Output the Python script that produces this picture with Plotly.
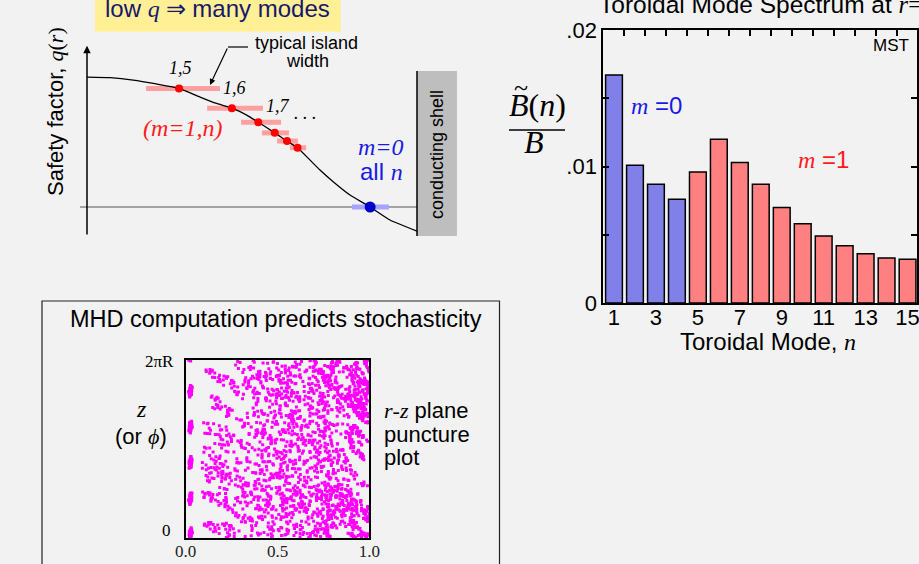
import numpy as np
import plotly.graph_objects as go

W, H = 919, 564
BG = "#f2f2f2"
SANS = "Liberation Sans"
SERIF = "Liberation Serif"

# ---------------- toroidal mode spectrum at r = a (MST) ----------------
MODE_N = list(range(1, 16))
MODE_AMP = [0.0167, 0.0101, 0.0087, 0.0076, 0.0096, 0.0120, 0.0103, 0.0087,
            0.0070, 0.0058, 0.0049, 0.0042, 0.0036, 0.0033, 0.0032]
MODE_M = [0, 0, 0, 0, 1, 1, 1, 1, 1, 1, 1, 1, 1, 1, 1]
X_TICKS = [1, 3, 5, 7, 9, 11, 13, 15]
X_TOP_TICKS = [1.5, 2.5, 3.5, 4.5, 5.5, 6.5, 7.5, 8.5, 9.5, 10.5, 11.5, 12.5, 13.5, 14.5]
Y_TICKS = [0, 0.005, 0.01, 0.015, 0.02]
Y_TICK_TEXT = ["0", "", ".01", "", ".02"]

# ---------------- safety-factor profile q(r), r in units of the shell radius ----------------
PROFILE_R = [0.0, 0.07, 0.14, 0.21, 0.279, 0.34, 0.39, 0.439, 0.484, 0.519,
             0.569, 0.606, 0.638, 0.676, 0.706, 0.746, 0.797, 0.858, 0.918, 1.0]
PROFILE_Q = [0.219, 0.218, 0.214, 0.2075, 0.200, 0.186, 0.175, 0.1667, 0.155, 0.1429,
             0.125, 0.111, 0.100, 0.079, 0.0624, 0.0427, 0.0202, 0.0, -0.0219, -0.0405]

# m=1 resonant surfaces (q = 1/n) and their island widths
RES_N = [5, 6, 7, 8, 9, 10]
RES_R = [0.279, 0.439, 0.519, 0.569, 0.606, 0.638]
ISLAND_LO = [0.179, 0.364, 0.467, 0.530, 0.576, 0.615]
ISLAND_HI = [0.403, 0.533, 0.588, 0.612, 0.639, 0.664]
RES_LABELS = ["1,5", "1,6", "1,7"]
# m=0 resonance at the q = 0 surface
M0_R = 0.858
M0_LO, M0_HI = 0.803, 0.915

# ---------------- field-line puncture map (r-z plane) ----------------
MODE_PHASE = [0.12, 0.57, 0.33, 0.81, 0.05, 0.46, 0.29, 0.68, 0.91, 0.14,
              0.52, 0.37, 0.76, 0.23, 0.64]
KICK_GAIN = 4.0
SHEAR_GAIN = 4.0
R_INNER, R_OUTER = 0.09, 1.0
SEED_R = [0.12, 0.18, 0.24, 0.30, 0.36, 0.42, 0.48, 0.54, 0.60, 0.66, 0.72, 0.78,
          0.84, 0.90, 0.96, 0.15, 0.27, 0.45, 0.63, 0.81, 0.99, 0.21, 0.39, 0.57]
SEED_Z = [0.05, 0.61, 0.33, 0.87, 0.12, 0.48, 0.72, 0.26, 0.94, 0.41, 0.07, 0.66,
          0.19, 0.53, 0.81, 0.36, 0.98, 0.14, 0.59, 0.31, 0.77, 0.45, 0.02, 0.69]
TURNS = 85

# near-axis island chain (n = 5)
CORE_N = 5
CORE_R0, CORE_Z0, CORE_K = 0.026, 0.025, 0.02
CORE_THETA = [1.0, 0.6, 0.8]
CORE_TURNS = 40


def q_of(r):
    return float(np.interp(r, PROFILE_R, PROFILE_Q))


def trace_chaotic(r, z, turns):
    rs, zs = [], []
    for _ in range(turns):
        kick = sum(a * np.sin(2 * np.pi * (n * z + ph))
                   for n, a, ph in zip(MODE_N, MODE_AMP, MODE_PHASE))
        r += KICK_GAIN * (1.2 - 0.35 * r) * kick
        while r < R_INNER or r > R_OUTER:
            if r < R_INNER:
                r = 2 * R_INNER - r
            if r > R_OUTER:
                r = 2 * R_OUTER - r
        z = (z + SHEAR_GAIN * q_of(r)) % 1.0
        rs.append(r)
        zs.append(z)
    return rs, zs


def trace_core(theta, turns):
    p = 0.0
    rs, zs = [], []
    for k in range(turns):
        p -= CORE_K * np.sin(theta)
        theta += 2 * np.pi * CORE_N * p
        rs.append(CORE_R0 + 0.35 * p)
        zs.append((CORE_Z0 + k / CORE_N + theta / (2 * np.pi * CORE_N)) % 1.0)
    return rs, zs


punct_r, punct_z = [], []
for r0, z0 in zip(SEED_R, SEED_Z):
    a, b = trace_chaotic(r0, z0, TURNS)
    punct_r += a
    punct_z += b
core_r, core_z = [], []
for th in CORE_THETA:
    a, b = trace_core(th, CORE_TURNS)
    core_r += a
    core_z += b


def px(x):
    return x / W


def py(y):
    return 1 - y / H


def serif(t):
    return f"<span style='font-family:{SERIF}'>{t}</span>"


def ann(text, x, y, size, color="black", family=SANS, xanchor="center", angle=0):
    return dict(text=text, x=px(x), y=py(y), xref="paper", yref="paper", showarrow=False,
                font=dict(size=size, color=color, family=family),
                xanchor=xanchor, yanchor="middle", textangle=angle)


BLUE = "#8080e8"
RED = "#ff8080"

fig = go.Figure()

# spectrum bars
fig.add_trace(go.Bar(
    x=MODE_N, y=MODE_AMP, width=0.8,
    marker=dict(color=[BLUE if m == 0 else RED for m in MODE_M],
                line=dict(color="black", width=1.5)),
    xaxis="x", yaxis="y", hoverinfo="skip"))
# carrier for the top tick axis
fig.add_trace(go.Scatter(x=[MODE_N[0]], y=[0], mode="markers", marker=dict(opacity=0),
                         xaxis="x2", yaxis="y", hoverinfo="skip"))

# island widths
isl_x, isl_y = [], []
for n, lo, hi in zip(RES_N, ISLAND_LO, ISLAND_HI):
    isl_x += [lo, hi, None]
    isl_y += [1 / n, 1 / n, None]
fig.add_trace(go.Scatter(x=isl_x, y=isl_y, mode="lines",
                         line=dict(color="#ffa0a0", width=5), xaxis="x3", yaxis="y3"))
fig.add_trace(go.Scatter(x=[M0_LO, M0_HI], y=[0, 0], mode="lines",
                         line=dict(color="#a4a4ff", width=5), xaxis="x3", yaxis="y3"))
# q profile
fig.add_trace(go.Scatter(x=PROFILE_R, y=PROFILE_Q, mode="lines",
                         line=dict(color="black", width=1.3, shape="spline", smoothing=0.5),
                         xaxis="x3", yaxis="y3"))
# resonant surfaces
fig.add_trace(go.Scatter(x=RES_R, y=[1 / n for n in RES_N], mode="markers",
                         marker=dict(color="#ff0000", size=8), xaxis="x3", yaxis="y3"))
fig.add_trace(go.Scatter(x=[M0_R], y=[0], mode="markers",
                         marker=dict(color="#0000cc", size=11), xaxis="x3", yaxis="y3"))

# puncture plot
fig.add_trace(go.Scatter(x=punct_r, y=punct_z, mode="markers",
                         marker=dict(color="#ff00ff", size=3, symbol="square", line=dict(width=0)),
                         xaxis="x4", yaxis="y4", hoverinfo="skip"))
fig.add_trace(go.Scatter(x=core_r, y=core_z, mode="markers",
                         marker=dict(color="#ff00ff", size=3, symbol="square", line=dict(width=0)),
                         xaxis="x4", yaxis="y4", hoverinfo="skip"))

tickfont = dict(family=SANS, size=22, color="black")
fig.update_layout(
    width=W, height=H, margin=dict(l=0, r=0, t=0, b=0, autoexpand=False),
    paper_bgcolor=BG, plot_bgcolor=BG, showlegend=False, bargap=0.2,
    xaxis=dict(domain=[px(603.3), px(917)], range=[0.49, 15.45], tickvals=X_TICKS,
               ticks="", showline=True, linecolor="black", linewidth=2, mirror=True,
               showgrid=False, zeroline=False, tickfont=tickfont, anchor="y",
               ticklabeloverflow="allow", ticklabelstandoff=-6),
    xaxis2=dict(overlaying="x", side="top", anchor="y", range=[0.49, 15.45],
                tickvals=X_TOP_TICKS, ticks="inside", ticklen=6, tickwidth=1.5,
                tickcolor="black", showticklabels=False, showline=False,
                showgrid=False, zeroline=False),
    yaxis=dict(domain=[py(303), py(30)], range=[0, 0.02], tickvals=Y_TICKS,
               ticktext=Y_TICK_TEXT, ticks="inside", ticklen=6, tickwidth=1.5,
               tickcolor="black", showline=True, linecolor="black", linewidth=2,
               mirror="ticks", showgrid=False, zeroline=False, tickfont=tickfont, anchor="x"),
    xaxis3=dict(domain=[px(75), px(460)], range=[-0.03636, 1.1303], visible=False, anchor="y3"),
    yaxis3=dict(domain=[py(236), py(40)], range=[-0.0489, 0.2816], visible=False, anchor="x3"),
    xaxis4=dict(domain=[px(185.7), px(369.3)], range=[0, 1], tickvals=[0, 0.5, 1],
                ticktext=["0.0", "0.5", "1.0"], ticks="", showline=True, linecolor="black",
                linewidth=2, mirror=True, showgrid=False, zeroline=False,
                tickfont=dict(family=SERIF, size=17, color="#222"), anchor="y4",
                ticklabeloverflow="allow", ticklabelstandoff=-4),
    yaxis4=dict(domain=[py(538.3), py(360)], range=[0, 1], showticklabels=False, ticks="",
                showline=True, linecolor="black", linewidth=2, mirror=True,
                showgrid=False, zeroline=False, anchor="x4"),
)

shapes = [
    # headline box
    dict(type="rect", xref="paper", yref="paper", x0=px(95), x1=px(340.7), y0=py(31.7), y1=py(-5),
         fillcolor="#fff096", line=dict(width=0), layer="below"),
    # q = 0 reference line
    dict(type="line", xref="x3", yref="y3", x0=-0.021, x1=1.0, y0=0, y1=0,
         line=dict(color="#555", width=1.2), layer="below"),
    # conducting shell
    dict(type="rect", xref="x3", yref="y3", x0=1.0, x1=1.121, y0=-0.0489, y1=0.2293,
         fillcolor="#bebebe", line=dict(width=0), layer="below"),
    dict(type="line", xref="x3", yref="y3", x0=1.0, x1=1.0, y0=-0.0489, y1=0.2293,
         line=dict(color="black", width=1.5)),
    # leader to the island width
    dict(type="line", xref="paper", yref="paper", x0=px(248), x1=px(228), y0=py(47), y1=py(47),
         line=dict(color="black", width=1.2)),
    # fraction bar of the y label
    dict(type="line", xref="paper", yref="paper", x0=px(509), x1=px(565), y0=py(130), y1=py(130),
         line=dict(color="black", width=1.6)),
    # frame around the puncture panel
    dict(type="rect", xref="paper", yref="paper", x0=px(42), x1=px(499.5), y0=py(580), y1=py(301),
         line=dict(color="#222", width=1.2), layer="below"),
]

annotations = [
    # q-profile panel
    ann(f"low {serif('<i>q</i> ⇒')} many modes", 217, 8, 24, color="#17176b"),
    ann("typical island", 306, 43, 18),
    ann("width", 307, 61, 18),
    ann(f"Safety factor, {serif('<i>q</i>(<i>r</i>)')}", 55, 112, 22, angle=-90),
    ann(serif(f"<i>{RES_LABELS[0]}</i>"), 180, 68, 18),
    ann(serif(f"<i>{RES_LABELS[1]}</i>"), 234, 88, 18),
    ann(serif(f"<i>{RES_LABELS[2]}</i>"), 278, 106, 18),
    ann(serif("<i>. . .</i>"), 305, 113, 18),
    ann(serif("<i>(m=1,n)</i>"), 183, 128, 24, color="#ff1a1a"),
    ann(serif("<i>m=0</i>"), 381, 147, 24, color="#1a1ae6"),
    ann(f"all {serif('<i>n</i>')}", 381, 171, 24, color="#1a1ae6"),
    ann("conducting shell", 437, 155, 18, angle=-90),
    # spectrum panel
    ann(f"Toroidal Mode Spectrum at {serif('<i>r</i>=<i>a</i>')}", 596.7, 5, 24.5, xanchor="left"),
    ann(f"Toroidal Mode, {serif('<i>n</i>')}", 768, 341.5, 24),
    ann(serif("<i>B</i>(<i>n</i>)"), 537, 105, 32, family=SERIF),
    ann(serif("<i>B</i>"), 534, 141.5, 32, family=SERIF),
    ann(serif("~"), 521, 87, 26, family=SERIF),
    ann(f"{serif('<i>m</i>')} =0", 629.3, 105, 24, color="#1a1ae6", xanchor="left"),
    ann(f"{serif('<i>m</i>')} =1", 796, 160, 24, color="#ff1a1a", xanchor="left"),
    ann("MST", 910.7, 45.5, 17, xanchor="right"),
    # puncture panel
    ann("MHD computation predicts stochasticity", 275.8, 319.3, 23.5),
    ann(serif("2πR"), 175.7, 361, 17, family=SERIF, xanchor="right"),
    ann(serif("0"), 172.7, 530, 17, family=SERIF, xanchor="right"),
    ann(serif("<i>z</i>"), 141.7, 408.5, 24, family=SERIF),
    ann(f"(or {serif('<i>ϕ</i>')})", 140.7, 436, 22),
    ann(f"{serif('<i>r</i>-<i>z</i>')} plane", 381.7, 410, 22, xanchor="left"),
    ann("puncture", 381.7, 434.5, 22, xanchor="left"),
    ann("plot", 381.7, 457, 22, xanchor="left"),
    ann(serif("<i>r</i>/<i>a</i>"), 277, 572, 18, family=SERIF),
    # arrows
    dict(x=0, y=0.272, xref="x3", yref="y3", ax=0, ay=-0.0489, axref="x3", ayref="y3",
         text="", showarrow=True, arrowhead=2, arrowsize=1, arrowwidth=1.5, arrowcolor="black"),
    dict(x=px(210), y=py(85), xref="paper", yref="paper", ax=18, ay=-38,
         text="", showarrow=True, arrowhead=2, arrowsize=1, arrowwidth=1.2, arrowcolor="black"),
]

fig.update_layout(shapes=shapes, annotations=annotations)
fig.write_html("out.html")
